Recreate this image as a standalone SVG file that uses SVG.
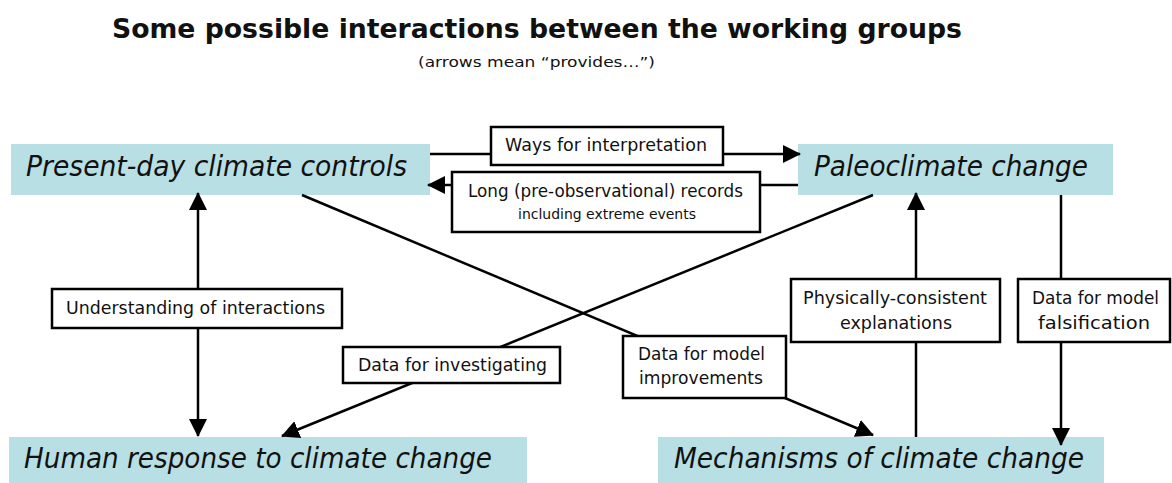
<svg xmlns="http://www.w3.org/2000/svg" width="1172" height="483" viewBox="0 0 1172 483">
  <defs>
    <marker id="arrow" markerUnits="userSpaceOnUse" markerWidth="18" markerHeight="18" viewBox="0 0 18 18" refX="17" refY="9" orient="auto">
      <path d="M0,0 L18,9 L0,18 Z" fill="#000"/>
    </marker>
    <marker id="arrowStart" markerUnits="userSpaceOnUse" markerWidth="18" markerHeight="18" viewBox="0 0 18 18" refX="1" refY="9" orient="auto">
      <path d="M18,0 L0,9 L18,18 Z" fill="#000"/>
    </marker>
  </defs>
  <style>
    .title { font-family: "DejaVu Sans", "Noto Sans", sans-serif; font-weight: bold; font-size: 27px; fill: #111; }
    .sub { font-family: "DejaVu Sans", "Noto Sans", sans-serif; font-size: 14px; fill: #111; }
    .group rect { fill: #b8dfe3; }
    .group text { font-family: "DejaVu Sans", "Noto Sans", sans-serif; font-style: italic; font-size: 28px; fill: #111; }
    .label rect { fill: #fff; stroke: #000; stroke-width: 2.5; }
    .label text { font-family: "DejaVu Sans", "Noto Sans", sans-serif; font-size: 17.5px; fill: #111; }
    .label text.small { font-size: 13.5px; }
    .conn line { stroke: #000; stroke-width: 2.5; fill: none; }
  </style>

  <rect width="1172" height="483" fill="#fff"/>

  <text class="title" x="112" y="38" textLength="850" lengthAdjust="spacingAndGlyphs">Some possible interactions between the working groups</text>
  <text class="sub" x="418" y="67" textLength="237" lengthAdjust="spacingAndGlyphs">(arrows mean “provides…”)</text>

  <!-- working groups -->
  <g id="present-day" class="group">
    <rect x="11" y="144" width="419" height="51"/>
    <text x="26" y="176" textLength="381" lengthAdjust="spacingAndGlyphs">Present-day climate controls</text>
  </g>
  <g id="paleoclimate" class="group">
    <rect x="798" y="144" width="315" height="51"/>
    <text x="814" y="176" textLength="274" lengthAdjust="spacingAndGlyphs">Paleoclimate change</text>
  </g>
  <g id="human-response" class="group">
    <rect x="9" y="437" width="518" height="46"/>
    <text x="24" y="468" textLength="468" lengthAdjust="spacingAndGlyphs">Human response to climate change</text>
  </g>
  <g id="mechanisms" class="group">
    <rect x="658" y="437" width="446" height="46"/>
    <text x="674" y="468" textLength="410" lengthAdjust="spacingAndGlyphs">Mechanisms of climate change</text>
  </g>

  <!-- connectors -->
  <g id="connectors" class="conn">
    <line x1="430" y1="154" x2="800" y2="154" marker-end="url(#arrow)"/>
    <line x1="798" y1="185" x2="428" y2="185" marker-end="url(#arrow)"/>
    <line x1="198" y1="193" x2="198" y2="436" marker-start="url(#arrowStart)" marker-end="url(#arrow)"/>
    <line x1="873" y1="195" x2="282" y2="436" marker-end="url(#arrow)"/>
    <line x1="302" y1="195" x2="873" y2="435" marker-end="url(#arrow)"/>
    <line x1="916" y1="437" x2="916" y2="193" marker-end="url(#arrow)"/>
    <line x1="1061" y1="195" x2="1061" y2="445" marker-end="url(#arrow)"/>
  </g>

  <!-- connector labels -->
  <g id="label-ways" class="label">
    <rect x="491" y="127" width="232" height="38"/>
    <text x="505" y="151" textLength="202" lengthAdjust="spacingAndGlyphs">Ways for interpretation</text>
  </g>
  <g id="label-records" class="label">
    <rect x="452" y="172" width="308" height="60"/>
    <text x="468" y="197" textLength="275" lengthAdjust="spacingAndGlyphs">Long (pre-observational) records</text>
    <text class="small" x="518" y="219" textLength="178" lengthAdjust="spacingAndGlyphs">including extreme events</text>
  </g>
  <g id="label-understanding" class="label">
    <rect x="52" y="289" width="290" height="39"/>
    <text x="66" y="314" textLength="259" lengthAdjust="spacingAndGlyphs">Understanding of interactions</text>
  </g>
  <g id="label-investigating" class="label">
    <rect x="343" y="347" width="217" height="36"/>
    <text x="358" y="371" textLength="189" lengthAdjust="spacingAndGlyphs">Data for investigating</text>
  </g>
  <g id="label-improvements" class="label">
    <rect x="623" y="336" width="163" height="62"/>
    <text x="638" y="360" textLength="127" lengthAdjust="spacingAndGlyphs">Data for model</text>
    <text x="639" y="384" textLength="124" lengthAdjust="spacingAndGlyphs">improvements</text>
  </g>
  <g id="label-explanations" class="label">
    <rect x="791" y="279" width="209" height="63"/>
    <text x="803" y="304" textLength="184" lengthAdjust="spacingAndGlyphs">Physically-consistent</text>
    <text x="840" y="329" textLength="112" lengthAdjust="spacingAndGlyphs">explanations</text>
  </g>
  <g id="label-falsification" class="label">
    <rect x="1018" y="279" width="152" height="63"/>
    <text x="1032" y="304" textLength="127" lengthAdjust="spacingAndGlyphs">Data for model</text>
    <text x="1038" y="329" textLength="112" lengthAdjust="spacingAndGlyphs">falsification</text>
  </g>
</svg>
